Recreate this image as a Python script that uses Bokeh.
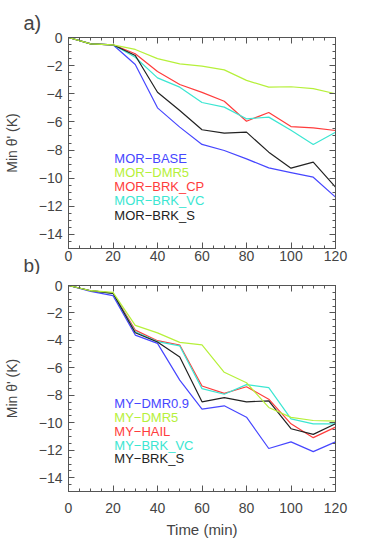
from bokeh.plotting import figure
from bokeh.layouts import column
from bokeh.models import FixedTicker, LinearAxis, Title, Range1d
from bokeh.core.properties import value
from bokeh.embed import file_html
from bokeh.resources import INLINE

time = [0, 10, 20, 30, 40, 50, 60, 70, 80, 90, 100, 110, 120]

# Panel a) MOR runs
a_names = ["MOR\u2212BASE", "MOR\u2212DMR5", "MOR\u2212BRK_CP", "MOR\u2212BRK_VC", "MOR\u2212BRK_S"]
a_base = [0.0, -0.45, -0.52, -1.92, -5.0, -6.37, -7.6, -8.03, -8.63, -9.27, -9.6, -9.93, -11.35]
a_dmr5 = [0.0, -0.45, -0.52, -0.85, -1.5, -1.87, -2.04, -2.3, -3.05, -3.53, -3.5, -3.63, -4.0]
a_brkcp = [0.0, -0.45, -0.52, -1.16, -2.42, -3.34, -3.9, -4.53, -5.95, -5.33, -6.33, -6.42, -6.61]
a_brkvc = [0.0, -0.45, -0.52, -1.4, -2.87, -3.53, -4.62, -4.95, -5.78, -5.66, -6.6, -7.6, -6.73]
a_brks = [0.0, -0.45, -0.52, -1.28, -3.89, -5.19, -6.56, -6.8, -6.73, -8.15, -9.29, -8.86, -10.64]

# Panel b) MY runs
b_names = ["MY\u2212DMR0.9", "MY\u2212DMR5", "MY\u2212HAIL", "MY\u2212BRK_VC", "MY\u2212BRK_S"]
b_dmr09 = [0.0, -0.43, -0.74, -3.61, -4.21, -6.89, -9.0, -8.76, -9.59, -11.87, -11.39, -12.1, -11.39]
b_dmr5 = [0.0, -0.38, -0.5, -2.9, -3.45, -4.14, -4.33, -6.32, -7.08, -8.88, -9.6, -9.83, -9.88]
b_hail = [0.0, -0.38, -0.55, -3.25, -4.02, -4.33, -7.32, -7.85, -7.37, -8.28, -10.07, -11.08, -10.31]
b_brkvc = [0.0, -0.38, -0.57, -3.37, -4.09, -4.4, -7.51, -7.92, -7.22, -7.44, -9.71, -10.07, -10.07]
b_brks = [0.0, -0.38, -0.57, -3.44, -4.11, -5.21, -8.47, -8.16, -8.47, -8.4, -10.43, -10.84, -10.07]

x_ticks = [0, 20, 40, 60, 80, 100, 120]
y_ticks = [-14, -12, -10, -8, -6, -4, -2, 0]

colors = ["#4646ff", "#b6f03a", "#ff3c3c", "#3ce6d2", "#222222"]
AXC = "#555555"
FONT = "Liberation Sans"


def make_panel(height, top, bottom, series, names, xlabel):
    p = figure(width=357, height=height, output_backend="svg", toolbar_location=None,
               x_range=Range1d(0, 120), y_range=Range1d(-15, 0),
               min_border_left=67, min_border_right=22,
               min_border_top=top, min_border_bottom=bottom)
    p.xgrid.visible = False
    p.ygrid.visible = False
    p.outline_line_color = AXC
    p.background_fill_color = "white"
    p.border_fill_color = "white"
    p.add_layout(LinearAxis(), "right")
    p.add_layout(LinearAxis(), "above")
    for ax in p.axis:
        ax.axis_line_color = AXC
        ax.major_tick_line_color = AXC
        ax.minor_tick_line_color = AXC
        ax.major_tick_in = 6
        ax.major_tick_out = 0
        ax.minor_tick_in = 3
        ax.minor_tick_out = 0
        ax.major_label_text_font = FONT
        ax.major_label_text_font_size = "14px"
        ax.major_label_text_color = "#444444"
    for ax in p.xaxis:
        ax.ticker = FixedTicker(ticks=x_ticks, minor_ticks=list(range(0, 121, 5)))
    for ax in p.yaxis:
        ax.ticker = FixedTicker(ticks=y_ticks, minor_ticks=[-15 + 0.5 * i for i in range(31)])
        ax.major_label_overrides = {t: ("\u2212%d" % -t if t < 0 else "0") for t in y_ticks}
    p.right[0].major_label_overrides = {t: "" for t in y_ticks}
    p.right[0].major_label_standoff = 0
    p.above[0].major_label_overrides = {t: "" for t in x_ticks}
    p.above[0].major_label_standoff = 0
    p.left[0].major_label_standoff = 6
    p.left[0].axis_label = "Min \u03b8' (K)"
    p.left[0].axis_label_text_font = FONT
    p.left[0].axis_label_text_font_size = "14px"
    p.left[0].axis_label_text_font_style = "normal"
    p.left[0].axis_label_text_color = "#444444"
    p.left[0].axis_label_standoff = 16
    b = p.below[0]
    if xlabel:
        b.major_label_standoff = 11
        b.axis_label = xlabel
        b.axis_label_text_font = FONT
        b.axis_label_text_font_size = "15px"
        b.axis_label_text_font_style = "normal"
        b.axis_label_text_color = "#444444"
        b.axis_label_standoff = 5
    else:
        b.major_label_standoff = 2

    order = [0, 2, 3, 4, 1]
    for i in order:
        p.line(time, series[i], line_color=colors[i], line_width=1.2)
    for i, name in enumerate(names):
        p.text(x=[20.6], y=[-8.62 - i * 1.0], text=[name], text_color=colors[i],
               text_font=value(FONT), text_font_size="13px", text_baseline="middle",
               text_align="left")
    return p


p1 = make_panel(274, 37, 26, [a_base, a_dmr5, a_brkcp, a_brkvc, a_brks], a_names, None)
p2 = make_panel(266, 11, 46, [b_dmr09, b_dmr5, b_hail, b_brkvc, b_brks], b_names, "Time (min)")

p1.add_layout(Title(text="a)", align="left", offset=-45, standoff=7, text_font=FONT,
                    text_font_size="20px", text_font_style="normal", text_color="#444444"), "above")
p1.add_layout(Title(text="b)", align="left", offset=-45, standoff=-25, text_font=FONT,
                    text_font_size="19px", text_font_style="normal", text_color="#444444"), "below")

layout = column(p1, p2, spacing=0)
open("out.html", "w").write(file_html(layout, INLINE))
